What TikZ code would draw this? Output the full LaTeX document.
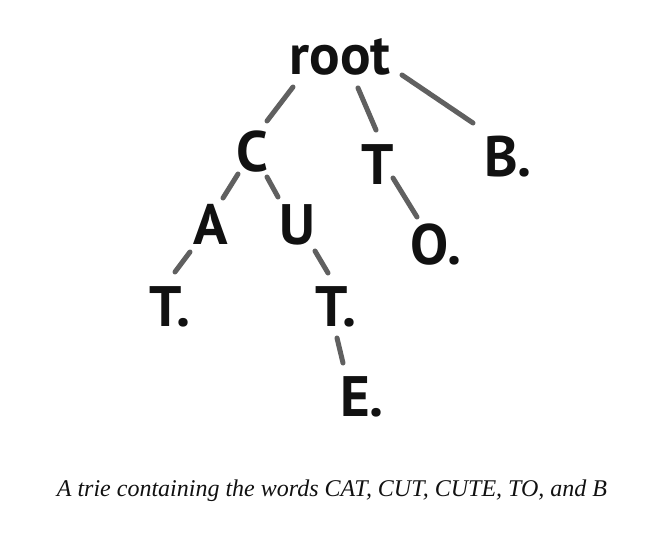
\documentclass[tikz,border=0pt]{standalone}
\usepackage{fontspec}
\newfontfamily\handfont{PT Sans}
\newfontfamily\capfont{Liberation Serif}
\definecolor{edgegray}{HTML}{606060}
\definecolor{ink}{HTML}{111111}
\begin{document}
\begin{tikzpicture}[x=1pt,y=-1pt,
  letter/.style={anchor=base,inner sep=0pt,text=ink,font=\handfont\bfseries\fontsize{57}{60}\selectfont},
  edge/.style={draw=edgegray,line width=5pt,line cap=round}]
\useasboundingbox[fill=white] (0,0) rectangle (662,534);
\node[letter] (root) at (340,75) {root};
\node[letter] (C) at (252,172) {C};
\node[letter] (T1) at (378,185) {T};
\node[letter] (B) at (508,177) {B.};
\node[letter] (A) at (211,245) {A};
\node[letter] (U) at (297,245) {U};
\node[letter] (O) at (436,265) {O.};
\node[letter] (TL) at (170,327) {T.};
\node[letter] (TM) at (336,327) {T.};
\node[letter] (E) at (362,417) {E.};
\node[anchor=base,inner sep=0pt,text=ink,font=\capfont\itshape\fontsize{24}{27}\selectfont] (cap) at (332,497) {A trie containing the words CAT, CUT, CUTE, TO, and B};
% edges
\draw[edge] ([shift={(-47,12)}]root.base) -- ([shift={(15,-51)}]C.base);
\draw[edge] ([shift={(18,13)}]root.base) -- ([shift={(-2,-55)}]T1.base);
\draw[edge] ([shift={(62,0)}]root.base) -- ([shift={(-35,-54)}]B.base);
\draw[edge] ([shift={(-14,2)}]C.base) -- ([shift={(12,-47)}]A.base);
\draw[edge] ([shift={(15,5)}]C.base) -- ([shift={(-19,-48)}]U.base);
\draw[edge] ([shift={(15,-7)}]T1.base) -- ([shift={(-19,-48)}]O.base);
\draw[edge] ([shift={(-21,7)}]A.base) -- ([shift={(5,-55)}]TL.base);
\draw[edge] ([shift={(18,6)}]U.base) -- ([shift={(-8,-54)}]TM.base);
\draw[edge] ([shift={(1,11)}]TM.base) -- ([shift={(-19,-54)}]E.base);
\end{tikzpicture}
\end{document}
